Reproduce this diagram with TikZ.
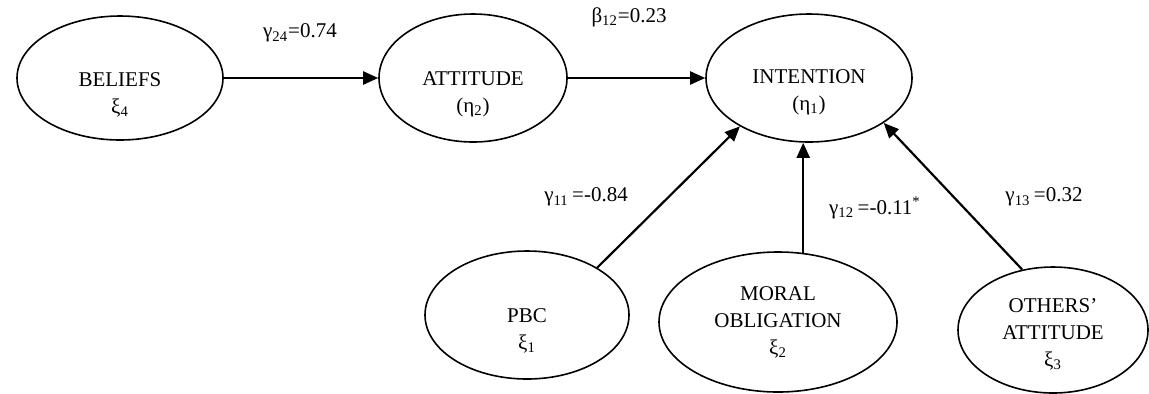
\documentclass[tikz,border=0pt]{standalone}
\usepackage{fontspec}
\setmainfont{Liberation Serif}
\usetikzlibrary{arrows.meta,shapes.geometric,calc}
\begin{document}
\begin{tikzpicture}[x=0.5pt,y=-0.5pt,
  lat/.style={draw, ellipse, line width=0.8pt, inner sep=0pt},
  txt/.style={font=\fontsize{10.5}{13.5}\selectfont, align=center, inner sep=0pt},
  pathline/.style={line width=1.1pt, -{Triangle[length=7.5pt,width=6.5pt]}},
  coef/.style={font=\fontsize{10.5}{12}\selectfont, inner sep=0pt}]
\useasboundingbox (0,0) rectangle (1149,393);

\node[lat, minimum width=103pt, minimum height=62pt,
  label={[txt,yshift=-8.5pt]center:{BELIEFS\\ξ\textsubscript{4}}}] (beliefs) at (120,78) {};
\node[lat, minimum width=94pt, minimum height=64pt,
  label={[txt,yshift=-8pt]center:{ATTITUDE\\(η\textsubscript{2})}}] (attitude) at (473,78) {};
\node[lat, minimum width=103pt, minimum height=64pt,
  label={[txt,yshift=-7pt]center:{INTENTION\\(η\textsubscript{1})}}] (intention) at (809,78) {};
\node[lat, minimum width=102pt, minimum height=64pt,
  label={[txt,yshift=-8pt]center:{PBC\\ξ\textsubscript{1}}}] (pbc) at (527,315) {};
\node[lat, minimum width=119pt, minimum height=70pt,
  label={[txt,yshift=0pt]center:{MORAL\\OBLIGATION\\ξ\textsubscript{2}}}] (moral) at (778,322) {};
\node[lat, minimum width=95pt, minimum height=63pt,
  label={[txt,yshift=-2pt]center:{OTHERS’\\ATTITUDE\\ξ\textsubscript{3}}}] (others) at (1053,330) {};

\draw[pathline] (beliefs) -- (attitude);
\draw[pathline] (attitude) -- (intention);
\draw[pathline] (pbc.34) -- (intention.215);
\draw[pathline] (moral.70) -- (moral.70 |- intention.south);
\draw[pathline] (others.117) -- (intention.-31);

\node[coef] (g24) at (300,33) {γ\textsubscript{24}=0.74};
\node[coef] (b12) at (629,17) {β\textsubscript{12}=0.23};
\node[coef] (g11) at (586,197) {γ\textsubscript{11}\,=-0.84};
\node[coef] (g12) at (875,208) {γ\textsubscript{12}\,=-0.11\textsuperscript{*}};
\node[coef] (g13) at (1044,197) {γ\textsubscript{13}\,=0.32};
\end{tikzpicture}
\end{document}
